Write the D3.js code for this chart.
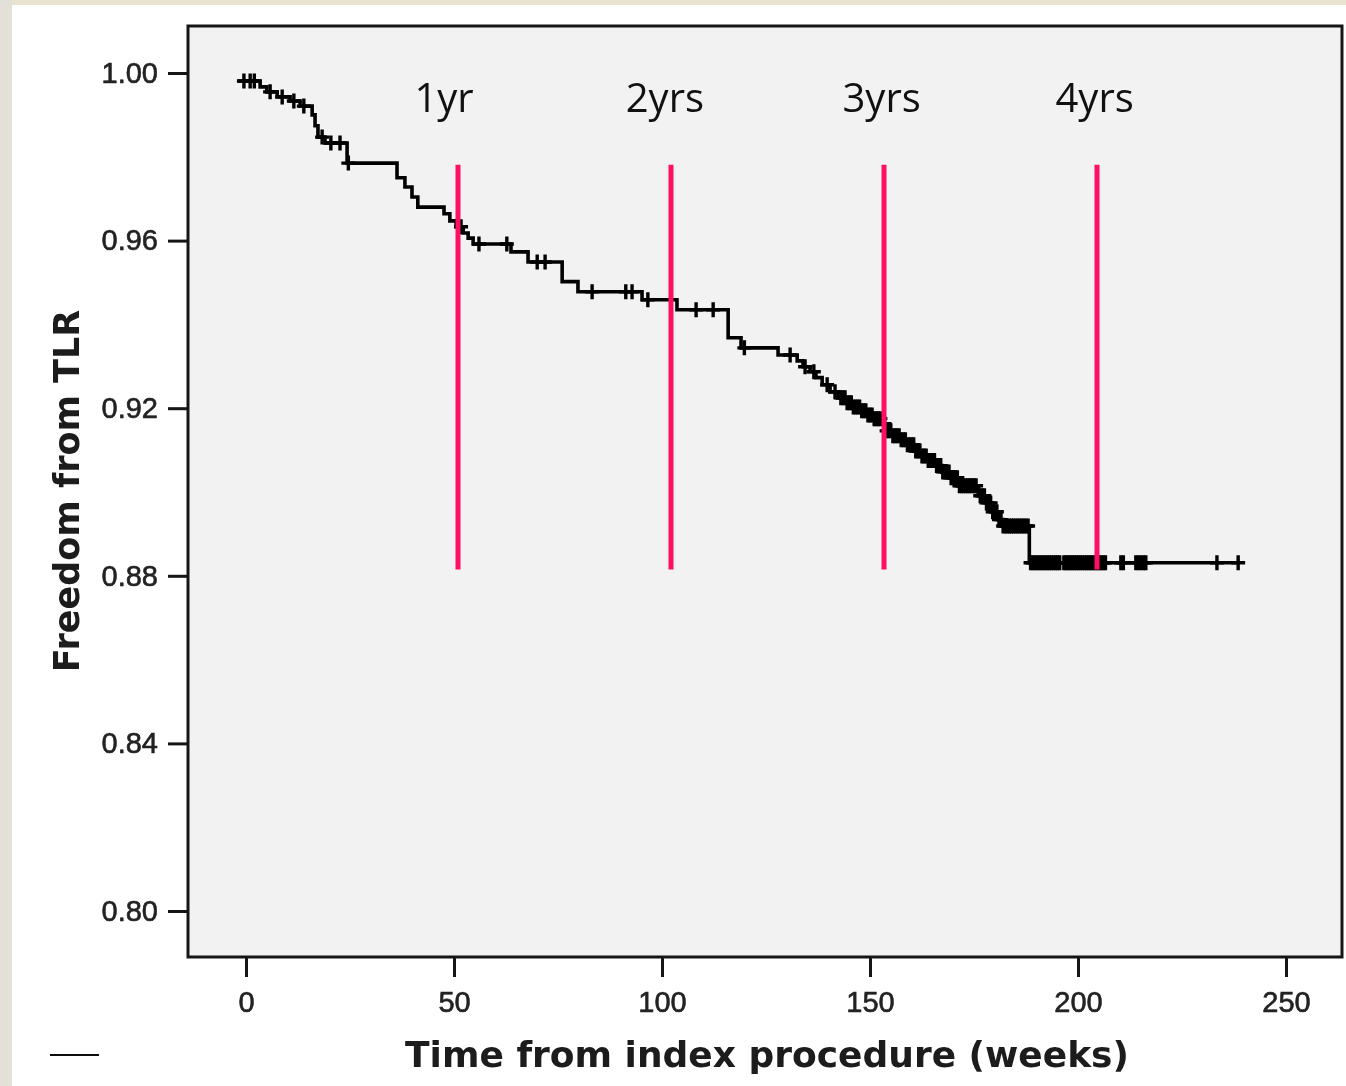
<!DOCTYPE html>
<html>
<head>
<meta charset="utf-8">
<script src="https://cdn.jsdelivr.net/npm/d3@7/dist/d3.min.js"></script>
<style>
  html, body { margin: 0; padding: 0; background: #ffffff; }
  svg { display: block; }
</style>
</head>
<body>
<svg id="chart" width="1346" height="1086"></svg>
<script>
// Kaplan-Meier estimate: freedom from target lesion revascularisation (TLR)
const startWeek = -2;
const startSurvival = 0.9981;

// week of each event and the survival level right after it
const eventWeeks = [3.4, 5.0, 7.5, 10.6, 13.0, 15.9, 16.6, 17.3, 19.0, 24.3,
  36.3, 38.2, 39.9, 41.3, 47.6, 49.0, 50.5, 52.2, 53.4, 54.6,
  63.7, 67.8, 76.0, 79.8, 95.2, 103.6, 115.9, 119.0, 127.9, 132.5,
  133.9, 135.6, 137.0, 138.5, 140.4, 142.3, 144.2, 145.9, 147.6, 149.3,
  151.0, 152.6, 153.8, 155.5, 157.2, 158.9, 160.6, 162.3, 163.9, 165.6,
  167.3, 169.2, 171.2, 176.0, 177.9, 179.3, 180.8, 182.0, 188.3];
const survival = [0.9967, 0.9955, 0.9943, 0.9933, 0.9921, 0.9900, 0.9874, 0.9847, 0.9833, 0.9785,
  0.9750, 0.9728, 0.9704, 0.9680, 0.9664, 0.9647, 0.9633, 0.9618, 0.9606, 0.9592,
  0.9573, 0.9549, 0.9502, 0.9478, 0.9459, 0.9435, 0.9368, 0.9344, 0.9327, 0.9313,
  0.9299, 0.9287, 0.9273, 0.9256, 0.9239, 0.9225, 0.9213, 0.9203, 0.9194, 0.9184,
  0.9175, 0.9163, 0.9146, 0.9134, 0.9125, 0.9113, 0.9098, 0.9086, 0.9075, 0.9063,
  0.9048, 0.9034, 0.9015, 0.8991, 0.8974, 0.8953, 0.8934, 0.8919, 0.8831];

// censored observations (weeks)
const censorWeeks = [-0.5, 1.0, 2.0, 5.8, 8.7, 11.5, 13.9, 18.3, 20.4, 22.6, 24.6,
  51.7, 56.0, 62.7, 70.0, 71.9, 83.2, 91.3, 92.8, 96.6, 108.2, 112.3, 119.8,
  130.8, 134.4, 136.5, 139.7, 141.6,
  143, 143.5, 144, 144.5, 145, 145.5, 146, 146.5, 147, 147.5, 148, 148.5,
  149, 149.5, 150, 150.5, 151, 151.5, 152, 152.5,
  153.5, 154, 154.5, 155, 155.5, 156, 156.5, 157, 157.5, 158, 158.5, 159,
  159.5, 160, 160.5, 161, 161.5, 162, 162.5, 163, 163.5, 164, 164.5, 165,
  165.5, 166, 166.5, 167, 167.5, 168, 168.5, 169, 169.5, 170, 170.5, 171,
  171.5, 172, 172.5, 173, 173.5, 174, 174.5, 175, 175.5,
  176.5, 177, 177.5, 178, 178.5, 179, 179.5, 180, 180.5, 181, 181.5, 182,
  182.5, 183, 183.5, 184, 184.5, 185, 185.5, 186, 186.5, 187, 187.5, 188,
  188.6, 189.1, 189.6, 190.1, 190.6, 191.1, 191.6, 192.1, 192.6, 193.1, 193.6, 194.1,
  194.6, 195.1, 195.6, 196.6, 197.1, 197.6, 198.1,
  198.6, 199.1, 199.6, 200.1, 200.6, 201.1, 201.6, 202.1, 202.6, 203.1, 203.6, 204.1, 204.6, 205.1,
  205.6, 206.1, 206.6, 210.3, 210.9, 213.9, 214.5, 215.1, 215.7, 216.3, 233.4, 238.5];
const endWeek = 238.5;

// axis ticks
const xTicks = [0, 50, 100, 150, 200, 250];
const yTicks = [0.80, 0.84, 0.88, 0.92, 0.96, 1.00];

// yearly reference lines
const yearLabels = ["1yr", "2yrs", "3yrs", "4yrs"];
const yearLineWeeks = [50.96, 102.16, 153.37, 204.57];
const yearLabelWeeks = [47.6, 100.7, 152.8, 204.0];
const yearLineRange = [0.8815, 0.9781];

const svg = d3.select("#chart");
const W = 1346, H = 1086;
const frame = { left: 188, top: 26, right: 1342, bottom: 957 };

const defs = svg.append("defs");
defs.append("filter").attr("id", "soft")
  .attr("x", "-5%").attr("y", "-5%").attr("width", "110%").attr("height", "110%")
  .append("feGaussianBlur").attr("stdDeviation", 0.7);

// page edge tint
svg.append("rect").attr("x", 0).attr("y", 0).attr("width", W).attr("height", 5).attr("fill", "#e9e2cf");
svg.append("rect").attr("x", 0).attr("y", 0).attr("width", 12).attr("height", H).attr("fill", "#e3e0d7");

const x = d3.scaleLinear().domain([0, 250]).range([246, 1286]);
const y = d3.scaleLinear().domain([0.80, 1.00]).range([911, 73]);

const base = svg.append("g").attr("filter", "url(#soft)");

// plot panel
base.append("rect")
  .attr("x", frame.left).attr("y", frame.top)
  .attr("width", frame.right - frame.left).attr("height", frame.bottom - frame.top)
  .attr("fill", "#f2f2f2").attr("stroke", "#141414").attr("stroke-width", 3);

const tickFont = "'Liberation Sans', Arial, sans-serif";

const yAxis = base.append("g")
  .attr("transform", `translate(${frame.left},0)`)
  .call(d3.axisLeft(y).tickValues(yTicks).tickSize(20).tickPadding(10).tickFormat(d3.format(".2f")));
const xAxis = base.append("g")
  .attr("transform", `translate(0,${frame.bottom})`)
  .call(d3.axisBottom(x).tickValues(xTicks).tickSize(20).tickPadding(14).tickFormat(d3.format("d")));
[yAxis, xAxis].forEach(g => {
  g.select(".domain").remove();
  g.selectAll(".tick line").attr("stroke", "#141414").attr("stroke-width", 3);
  g.selectAll(".tick text").attr("fill", "#222").attr("stroke", "#222").attr("stroke-width", 0.6)
    .style("font-family", tickFont).style("font-size", "29px");
});

// axis titles
const titleFont = "'DejaVu Sans', Verdana, sans-serif";
base.append("text")
  .attr("x", 767).attr("y", 1067)
  .attr("text-anchor", "middle")
  .style("font-family", titleFont).style("font-weight", "bold").style("font-size", "36px")
  .attr("fill", "#1a1a1a")
  .text("Time from index procedure (weeks)");
base.append("text")
  .attr("transform", "translate(79,491) rotate(-90)")
  .attr("text-anchor", "middle")
  .style("font-family", titleFont).style("font-weight", "bold").style("font-size", "35px")
  .attr("fill", "#1a1a1a")
  .text("Freedom from TLR");

// small stroke at the lower left corner
base.append("line").attr("x1", 50).attr("x2", 99).attr("y1", 1055).attr("y2", 1055)
  .attr("stroke", "#111").attr("stroke-width", 2);

// step curve
const levelAt = t => {
  let s = startSurvival;
  for (let i = 0; i < eventWeeks.length; i++) { if (eventWeeks[i] <= t) s = survival[i]; }
  return s;
};
const pts = [[startWeek, startSurvival]]
  .concat(eventWeeks.map((t, i) => [t, survival[i]]))
  .concat([[endWeek, survival[survival.length - 1]]]);
const line = d3.line().x(d => x(d[0])).y(d => y(d[1])).curve(d3.curveStepAfter);

const curveG = base.append("g");
curveG.append("path")
  .attr("d", line(pts))
  .attr("fill", "none").attr("stroke", "#000").attr("stroke-width", 3.6)
  .attr("stroke-linejoin", "miter");

curveG.selectAll("path.censor")
  .data(censorWeeks)
  .join("path")
  .attr("class", "censor")
  .attr("transform", t => `translate(${x(t)},${y(levelAt(t))})`)
  .attr("d", "M-7,0H7M0,-7.5V7.5")
  .attr("stroke", "#000").attr("stroke-width", 3.4).attr("fill", "none");

// yearly marker lines and labels
svg.selectAll("line.year")
  .data(yearLineWeeks)
  .join("line")
  .attr("class", "year")
  .attr("x1", d => x(d)).attr("x2", d => x(d))
  .attr("y1", y(yearLineRange[1])).attr("y2", y(yearLineRange[0]))
  .attr("stroke", "#ff0f64").attr("stroke-width", 5);

svg.selectAll("text.year")
  .data(yearLabels)
  .join("text")
  .attr("class", "year")
  .attr("x", (d, i) => x(yearLabelWeeks[i]))
  .attr("y", 112)
  .attr("text-anchor", "middle")
  .style("font-family", "'Open Sans', 'Noto Sans', sans-serif")
  .style("font-size", "40px")
  .attr("fill", "#111")
  .text(d => d);
</script>
</body>
</html>
